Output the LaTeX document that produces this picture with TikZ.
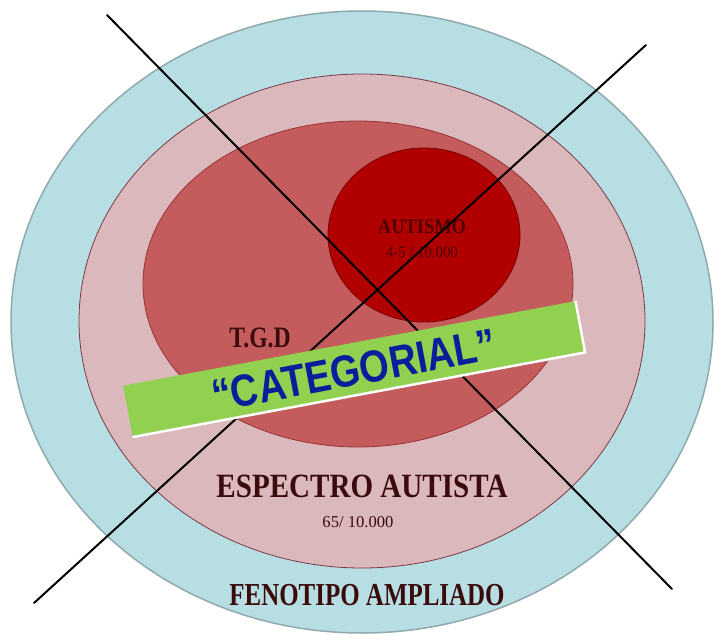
\documentclass[tikz,border=0pt]{standalone}
\usepackage{fontspec}
\setmainfont{Liberation Serif}
\newfontfamily\arialf{Liberation Sans}
\usetikzlibrary{shapes.geometric}
\definecolor{bluefill}{HTML}{B7DFE3}
\definecolor{blueedge}{HTML}{8FA9AD}
\definecolor{pinkfill}{HTML}{DBB8BB}
\definecolor{pinkedge}{HTML}{7A3A48}
\definecolor{redfill}{HTML}{C45B5D}
\definecolor{rededge}{HTML}{9A3436}
\definecolor{autfill}{HTML}{B00000}
\definecolor{autedge}{HTML}{7A0000}
\definecolor{bannergreen}{HTML}{92D050}
\definecolor{catblue}{HTML}{0A1E9C}
\definecolor{txtdark}{HTML}{3A0A0C}
\definecolor{auttext}{HTML}{4E0000}
\begin{document}
\begin{tikzpicture}[x=1pt,y=-1pt,
  ring/.style={ellipse, inner sep=0pt, outer sep=0pt},
  lbl/.style={text=txtdark, inner sep=0pt, anchor=base},
  cross/.style={draw=black, line width=2pt, line cap=round}]
\useasboundingbox (0,0) rectangle (716,643);
% rings
\node[ring, fill=bluefill, draw=blueedge, line width=1.5pt, minimum width=702pt, minimum height=622pt] (fen) at (362,322) {};
\node[ring, fill=pinkfill, draw=pinkedge, line width=0.8pt, minimum width=566pt, minimum height=494pt] (esp) at (362,321) {};
\node[ring, fill=redfill, draw=rededge, line width=0.8pt, minimum width=430pt, minimum height=326pt] (tgd) at (358,284) {};
\node[ring, fill=autfill, draw=autedge, line width=0.8pt, minimum width=192pt, minimum height=174pt] (aut) at (424,235) {};
% labels
\node[lbl, text=auttext, font=\bfseries\fontsize{20.7}{22}\selectfont] (autT) at (422,233) {\scalebox{0.89}[1]{AUTISMO}};
\node[lbl, text=auttext, font=\fontsize{16}{18}\selectfont] (autN) at (422,257) {\scalebox{0.92}[1]{4-5 / 10.000}};
\node[lbl, font=\bfseries\fontsize{29.6}{30}\selectfont] (tgdT) at (260,347) {\scalebox{0.8}[1]{T.G.D}};
\node[lbl, font=\bfseries\fontsize{34}{36}\selectfont] (espT) at (362,497) {\scalebox{0.855}[1]{ESPECTRO AUTISTA}};
\node[lbl, font=\fontsize{16.6}{18}\selectfont] (espN) at (358,527) {65/ 10.000};
\node[lbl, font=\bfseries\fontsize{32}{34}\selectfont] (fenT) at (367,605) {\scalebox{0.78}[1]{FENOTIPO AMPLIADO}};
% cross
\coordinate (c1a) at (107,15);
\coordinate (c1b) at (672,589);
\coordinate (c2a) at (646,45);
\coordinate (c2b) at (34,603);
\draw[cross] (c1a) -- (c1b);
\draw[cross] (c2a) -- (c2b);
% banner
\node[rectangle, fill=bannergreen, inner sep=0pt, minimum width=460pt, minimum height=52pt, rotate=10.6] (ban) at (354,369) {};
\draw[white, line width=2.5pt] (ban.south west) -- (ban.south east) -- (ban.north east);
\node[rotate=10.6, inner sep=0pt, text=catblue, font=\arialf\bfseries\fontsize{45}{46}\selectfont] (cat) at (354,370) {\scalebox{0.85}[1]{“CATEGORIAL”}};
\end{tikzpicture}
\end{document}
